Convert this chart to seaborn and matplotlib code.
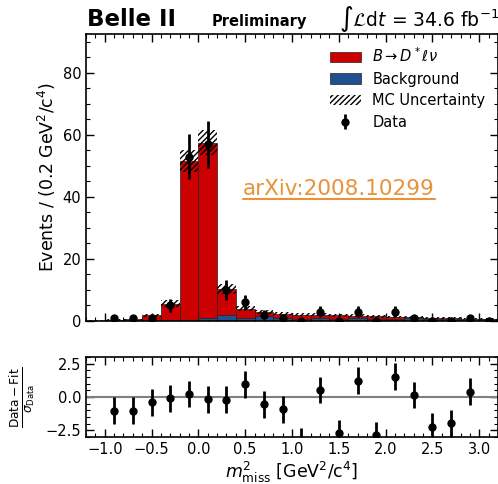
import numpy as np
import pandas as pd
import seaborn as sns
import matplotlib
matplotlib.use("Agg")
import matplotlib.pyplot as plt
from matplotlib.patches import Patch
from matplotlib.lines import Line2D
from matplotlib.ticker import MultipleLocator

# ---- binned m^2_miss spectrum (0.2 GeV^2/c^4 bins) ----
bin_edges = np.round(np.arange(-1.2, 3.2001, 0.2), 2)
bin_centers = np.round(bin_edges[:-1] + 0.1, 2)

background = [0.05, 0.1, 0.1, 0.1, 0.2, 0.3, 0.9, 1.8, 0.9, 1.5, 0.9,
              0.8, 0.9, 0.8, 1.0, 0.7, 0.7, 0.9, 0.8, 0.7, 0.6, 0.5]
mc_total = [0.1, 0.3, 0.5, 1.8, 5.6, 51.6, 57.5, 10.3, 4.0, 2.8, 2.3,
            2.0, 2.0, 1.9, 1.7, 1.5, 1.3, 1.2, 1.0, 0.9, 0.8, 0.6]
mc_unc = [0.1, 0.2, 0.3, 0.5, 1.2, 3.6, 4.0, 1.6, 0.8, 0.6, 0.5,
          0.5, 0.5, 0.5, 0.4, 0.4, 0.4, 0.3, 0.3, 0.3, 0.3, 0.3]
data_counts = [np.nan, 1, 1, 1, 5, 53, 57, 10, 6, 2, 1,
               0, 3, 0, 3, 0, 3, 1, 0, 0, 1, 0]
pulls = [np.nan, -1.03, -1.03, -0.40, -0.10, 0.23, -0.17, -0.20, 0.95, -0.55, -0.92,
         -3.35, 0.53, -2.73, 1.23, -2.86, 1.53, 0.15, -2.23, -1.98, 0.40, np.nan]

signal_label = r"$B \rightarrow D^*\ell\nu$"
bkg_label = "Background"
red = "#cc0000"
blue = "#21508f"

signal = np.array(mc_total) - np.array(background)
df = pd.DataFrame({
    "m2": np.concatenate([bin_centers, bin_centers]),
    "events": np.concatenate([signal, background]),
    "component": [signal_label] * len(bin_centers) + [bkg_label] * len(bin_centers),
})

sns.set_style("ticks")
plt.rcParams["font.family"] = ["DejaVu Sans"]
plt.rcParams["hatch.linewidth"] = 1.0
plt.rcParams["xtick.direction"] = "in"
plt.rcParams["ytick.direction"] = "in"
for key in ("text.color", "axes.labelcolor", "xtick.color", "ytick.color", "axes.edgecolor"):
    plt.rcParams[key] = "black"

fig = plt.figure(figsize=(4.98, 4.84), dpi=100)
ax = fig.add_axes([86 / 498, 1 - 321 / 484, 412 / 498, 287.5 / 484])
axr = fig.add_axes([86 / 498, 1 - 437.3 / 484, 412 / 498, 80.6 / 484], sharex=ax)

# stacked MC templates
sns.histplot(data=df, x="m2", weights="events", hue="component",
             hue_order=[signal_label, bkg_label], multiple="stack",
             bins=[float(b) for b in bin_edges],
             palette={signal_label: red, bkg_label: blue},
             alpha=1, edgecolor="#222222", linewidth=0.5, legend=False, ax=ax)

# MC uncertainty band
tot = np.array(mc_total)
unc = np.array(mc_unc)
ax.bar(bin_centers, 2 * unc, bottom=tot - unc, width=0.2, fill=False,
       hatch="//////", edgecolor="black", linewidth=0)

# data points
dc = np.array(data_counts, dtype=float)
data_h = ax.errorbar(bin_centers, dc, yerr=np.sqrt(dc), fmt="o", color="black",
                     markersize=5, elinewidth=2, capsize=0, label="Data")

ax.set_xlim(-1.2, 3.2)
ax.set_ylim(0, 92.7)
ax.set_xlabel("")
ax.set_ylabel(r"Events / (0.2 GeV$^2$/c$^4$)", fontsize=12.5)
ax.yaxis.set_label_coords(-0.068, 0.5)
ax.yaxis.set_major_locator(MultipleLocator(20))
ax.yaxis.set_minor_locator(MultipleLocator(5))
ax.xaxis.set_major_locator(MultipleLocator(0.5))
ax.xaxis.set_minor_locator(MultipleLocator(0.1))
ax.tick_params(which="both", top=True, right=True, labelbottom=False, labelsize=10.5)
ax.tick_params(which="major", length=6, width=1)
ax.tick_params(which="minor", length=3, width=0.8)
for s in ax.spines.values():
    s.set_linewidth(1.2)

handles = [
    Patch(facecolor=red, edgecolor="#222222", linewidth=0.5, label=signal_label),
    Patch(facecolor=blue, edgecolor="#222222", linewidth=0.5, label=bkg_label),
    Patch(facecolor="none", edgecolor="black", hatch="//////", linewidth=0, label="MC Uncertainty"),
    data_h,
]
ax.legend(handles=handles, loc="upper left", bbox_to_anchor=(0.592, 0.955),
          frameon=False, fontsize=10.5, borderpad=0, borderaxespad=0,
          handlelength=2.1, handletextpad=0.8, labelspacing=0.45)

# pull panel
axr.axhline(0, color="gray", linewidth=1.5, zorder=1)
axr.errorbar(bin_centers, pulls, yerr=1.0, fmt="o", color="black",
             markersize=5, elinewidth=2, capsize=0, zorder=3)
axr.set_ylim(-3.03, 3.03)
axr.set_yticks([-2.5, 0.0, 2.5])
axr.yaxis.set_minor_locator(MultipleLocator(0.5))
axr.tick_params(which="both", top=True, right=True, labelsize=10.5)
axr.tick_params(which="major", length=6, width=1)
axr.tick_params(which="minor", length=3, width=0.8)
for s in axr.spines.values():
    s.set_linewidth(1.2)
axr.set_xlabel(r"$m^2_{\mathrm{miss}}$ [GeV$^2$/c$^4$]", fontsize=12.5, labelpad=2)
axr.set_ylabel(r"$\frac{\mathrm{Data} - \mathrm{Fit}}{\sigma_{\mathrm{Data}}}$", fontsize=12.5)
axr.yaxis.set_label_coords(-0.12, 0.5)

# header
fig.text(87 / 498, 1 - 26 / 484, "Belle II", fontsize=16.5, fontweight="bold", va="baseline")
fig.text(212 / 498, 1 - 26 / 484, "Preliminary", fontsize=10.5, fontweight="bold", va="baseline")
fig.text(339 / 498, 1 - 26 / 484, r"$\int\mathcal{L}\mathrm{d}t$ = 34.6 fb$^{-1}$",
         fontsize=13.5, va="baseline")

# reference link
link = fig.text(243 / 498, 1 - 195 / 484, "arXiv:2008.10299", fontsize=15.5,
                color="#e8923a", va="baseline")
fig.canvas.draw()
bb = link.get_window_extent().transformed(fig.transFigure.inverted())
uy = 1 - 199 / 484
fig.add_artist(Line2D([bb.x0, bb.x1], [uy, uy], color="#e8923a", linewidth=1.5,
                      transform=fig.transFigure))

fig.savefig("out.png", dpi=100)
